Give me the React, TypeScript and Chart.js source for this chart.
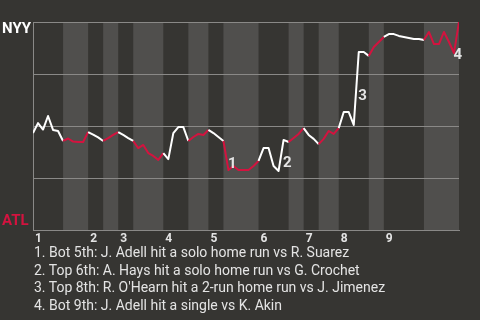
import React, { useEffect, useRef } from "react";
import { Chart, registerables } from "chart.js";

Chart.register(...registerables);

// Inning numbers shown along the bottom
const innings = ["1", "2", "3", "4", "5", "6", "7", "8", "9"];

// Play index where each half-inning starts (Top 1st, Bot 1st, ... Bot 9th), then the last play
const halfInningStarts = [0, 6, 11, 14, 17, 20, 26, 31, 35, 38, 45, 51, 54, 57, 61, 67, 70, 78, 85];

// NYY win probability (%) after each play
const nyyWinProb = [
  46.6, 51.4, 48.3, 54.8, 48.1, 47.6, 42.8, 44.0, 42.5, 42.3,
  42.3, 47.1, 45.9, 44.5, 42.8, 44.2, 45.7, 47.1, 45.7, 44.2,
  42.8, 39.4, 40.9, 37.0, 35.6, 33.7, 37.0, 34.1, 46.6, 49.5,
  49.5, 42.8, 44.7, 46.2, 45.7, 48.1, 46.6, 44.7, 42.8, 28.8,
  30.8, 28.8, 28.8, 28.8, 30.8, 33.2, 39.4, 39.4, 30.8, 28.4,
  43.3, 42.3, 44.2, 46.2, 49.0, 45.7, 43.8, 41.3, 43.8, 47.6,
  46.2, 49.0, 56.7, 56.7, 50.5, 85.6, 85.6, 83.7, 88.0, 90.4,
  92.8, 94.2, 94.2, 93.3, 92.8, 92.3, 91.8, 91.8, 91.3, 95.2,
  89.4, 89.4, 95.2, 90.4, 85.1, 100,
];

// Key plays: the play that completes each one, and its description
const eventPlays = [39, 50, 65, 84];
const eventNotes = [
  "Bot 5th: J. Adell hit a solo home run vs R. Suarez",
  "Top 6th: A. Hays hit a solo home run vs G. Crochet",
  "Top 8th: R. O'Hearn hit a 2-run home run vs J. Jimenez",
  "Bot 9th: J. Adell hit a single vs K. Akin",
];

const awayTeam = "NYY";
const homeTeam = "ATL";

const BG = "#363532";
const BAND = "#504f4d";
const GRID = "#8a8987";
const WHITE = "#ffffff";
const RED = "#d3133f";
const TEXT = "#e4e4e4";
const FONT = "Roboto, 'Noto Sans', sans-serif";

const halfIndexOf = (play: number) => {
  let h = 0;
  for (let k = 0; k < halfInningStarts.length - 1; k++) {
    if (halfInningStarts[k] <= play) h = k;
  }
  return h;
};

const gamePlugin = {
  id: "gameDecor",
  beforeDraw(chart: any) {
    const { ctx, chartArea: a, scales } = chart;
    const x = scales.x;
    ctx.save();
    ctx.fillStyle = BG;
    ctx.fillRect(0, 0, chart.width, chart.height);
    // shade the bottom half of every inning
    ctx.fillStyle = BAND;
    for (let h = 1; h < halfInningStarts.length - 1; h += 2) {
      const x0 = x.getPixelForValue(halfInningStarts[h]);
      const x1 = x.getPixelForValue(halfInningStarts[h + 1]);
      ctx.fillRect(x0, a.top, x1 - x0, a.bottom - a.top);
    }
    ctx.restore();
  },
  afterDraw(chart: any) {
    const { ctx, chartArea: a, scales } = chart;
    const x = scales.x;
    const y = scales.y;
    ctx.save();
    // team names at the top and bottom of the scale
    ctx.font = `bold 15px ${FONT}`;
    ctx.textAlign = "left";
    ctx.textBaseline = "alphabetic";
    ctx.fillStyle = WHITE;
    ctx.fillText(awayTeam, 2, a.top + 11);
    ctx.fillStyle = RED;
    ctx.fillText(homeTeam, 2, a.bottom - 5);
    // numbered markers next to the key plays
    ctx.fillStyle = TEXT;
    ctx.font = `bold 15px ${FONT}`;
    eventPlays.forEach((p, i) => {
      const mx = (x.getPixelForValue(p - 1) + x.getPixelForValue(p)) / 2;
      const my = (y.getPixelForValue(nyyWinProb[p - 1]) + y.getPixelForValue(nyyWinProb[p])) / 2;
      ctx.fillText(String(i + 1), mx + 2, my + 12);
    });
    ctx.restore();
  },
};

export default function App() {
  const ref = useRef<HTMLCanvasElement | null>(null);

  useEffect(() => {
    document.body.style.margin = "0";
    const canvas = ref.current;
    if (!canvas) return;
    const inningStarts = halfInningStarts.filter((_, k) => k % 2 === 0 && k < halfInningStarts.length - 1);
    const chart = new Chart(canvas, {
      type: "line",
      data: {
        datasets: [
          {
            data: nyyWinProb.map((v, i) => ({ x: i, y: v })),
            borderWidth: 2,
            pointRadius: 0,
            tension: 0,
            borderColor: WHITE,
            borderJoinStyle: "round",
            segment: {
              borderColor: (c: any) => (halfIndexOf(c.p0DataIndex) % 2 === 1 ? RED : WHITE),
            },
          },
        ],
      },
      options: {
        animation: false,
        responsive: false,
        devicePixelRatio: 1,
        layout: { padding: { top: 22, right: 21, left: 0, bottom: 0 } },
        plugins: { legend: { display: false }, tooltip: { enabled: false } },
        scales: {
          x: {
            type: "linear",
            min: 0,
            max: halfInningStarts[halfInningStarts.length - 1],
            grid: { display: false, drawTicks: false },
            border: { color: GRID, width: 1 },
            afterBuildTicks: (s: any) => {
              s.ticks = inningStarts.map((v) => ({ value: v }));
            },
            afterFit: (s: any) => {
              s.height = 90;
            },
            ticks: {
              autoSkip: false,
              maxRotation: 0,
              align: "start",
              labelOffset: 2,
              padding: 2,
              color: TEXT,
              font: { family: FONT, size: 12, weight: "bold" },
              callback: (v: any) => innings[inningStarts.indexOf(Number(v))] ?? "",
            },
          },
          y: {
            min: 0,
            max: 100,
            ticks: { display: false, stepSize: 25 },
            grid: { color: GRID, lineWidth: 1, drawTicks: false },
            border: { color: GRID, width: 1 },
            afterFit: (s: any) => {
              s.width = 33;
            },
          },
        },
      },
      plugins: [gamePlugin],
    } as any);
    return () => chart.destroy();
  }, []);

  return (
    <div style={{ position: "fixed", left: 0, top: 0, width: 480, height: 320, background: BG, overflow: "hidden" }}>
      <canvas ref={ref} width={480} height={320} style={{ display: "block", width: 480, height: 320 }} />
      <div
        style={{
          position: "absolute",
          left: 34,
          top: 244,
          font: `14px ${FONT}`,
          lineHeight: "17.5px",
          color: TEXT,
          whiteSpace: "nowrap",
        }}
      >
        {eventNotes.map((n, i) => (
          <div key={i}>{`${i + 1}. ${n}`}</div>
        ))}
      </div>
    </div>
  );
}
